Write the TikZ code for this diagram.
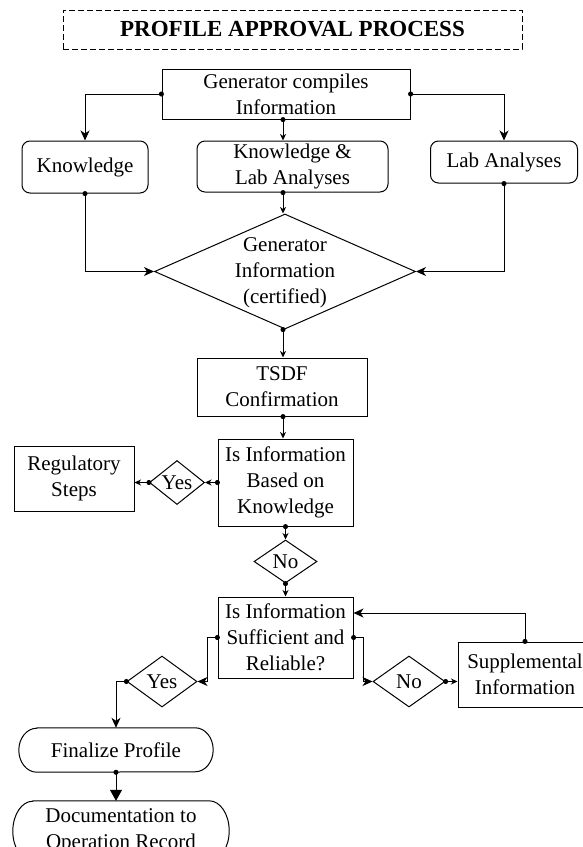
\documentclass[tikz,border=0pt]{standalone}
\usepackage{fontspec}
\setmainfont{Liberation Serif}
\usetikzlibrary{shapes.geometric,arrows.meta,calc}
\newcommand\flowfont{\fontsize{21}{26}\selectfont}
\newcommand\headfont{\fontsize{23}{28}\selectfont\bfseries}

\begin{document}
\begin{tikzpicture}[x=1pt,y=-1pt,
  every node/.style={inner sep=0pt, font=\flowfont, align=center},
  box/.style={draw, rectangle, line width=1pt},
  rbox/.style={box, rounded corners=8pt},
  dia/.style={draw, diamond, line width=1pt},
  stadium/.style={rectangle},
  link/.style={line width=1pt, shorten <=-2.4pt,
    {Circle[length=5pt]}-{Stealth[length=10pt,width=9pt,inset=3pt]}},
  linksm/.style={line width=1pt, shorten <=-2.4pt,
    {Circle[length=5pt]}-{Stealth[length=6.5pt,width=6pt,inset=2pt]}},
  linkbig/.style={line width=1pt, shorten <=-2.4pt,
    {Circle[length=5pt]}-{Triangle[length=11pt,width=12pt]}},
]
\useasboundingbox (0,0) rectangle (582,847);

% heading
\node[draw, dash pattern=on 6pt off 3pt, line width=0.8pt,
      minimum width=459pt, minimum height=39pt, font=\headfont]
      (title) at (292.5,29.5) {PROFILE APPROVAL PROCESS};

% upper part
\node[box, minimum width=248pt, minimum height=50pt] (gen) at (286,94) {Generator compiles\\Information};
\node[rbox, minimum width=126pt, minimum height=52pt] (know) at (85,167) {Knowledge};
\node[rbox, minimum width=191pt, minimum height=51pt] (kla) at (292.5,166.5) {Knowledge \&\\Lab Analyses};
\node[rbox, minimum width=147pt, minimum height=42pt] (lab) at (504,162) {Lab Analyses};
\node[dia, minimum width=261pt, minimum height=115pt] (gi) at (285,271.5) {};
\node (git) at (285,273) {Generator\\Information\\(certified)};
\node[box, minimum width=170pt, minimum height=58pt] (tsdf) at (282,387) {TSDF\\Confirmation};

% first decision
\node[box, minimum width=135pt, minimum height=87pt] (ib) at (285.5,482.5) {Is Information\\Based on\\Knowledge};
\node[dia, minimum width=55pt, minimum height=44pt] (yes1) at (177,482.5) {};
\node (yes1t) at (yes1) {Yes};
\node[box, minimum width=120pt, minimum height=65pt] (reg) at (74,478.5) {Regulatory\\Steps};
\node[dia, minimum width=63pt, minimum height=43pt] (no1) at (285.5,561.5) {};
\node (no1t) at (no1) {No};

% second decision
\node[box, minimum width=135pt, minimum height=81pt] (is) at (285.5,637.5) {Is Information\\Sufficient and\\Reliable?};
\node[dia, minimum width=70pt, minimum height=51pt] (yes2) at (162,681.5) {};
\node (yes2t) at (yes2) {Yes};
\node[dia, minimum width=72pt, minimum height=51pt] (no2) at (409,681.5) {};
\node (no2t) at (no2) {No};
\node[box, minimum width=134pt, minimum height=65pt] (sup) at (525,674.5) {Supplemental\\Information};

% terminals
\node[stadium, minimum width=194pt, minimum height=44pt] (fin) at (116,750) {Finalize Profile};
\node[stadium, minimum width=216pt, minimum height=60pt] (doc) at (121,831) {Documentation to\\Operation Record};
\draw[line width=1pt] ([xshift=18pt]fin.north west) -- ([xshift=-18pt]fin.north east)
  arc[start angle=90, end angle=-90, x radius=18pt, y radius=22pt]
  -- ([xshift=18pt]fin.south west)
  arc[start angle=270, end angle=90, x radius=18pt, y radius=22pt] -- cycle;
\draw[line width=1pt] ([xshift=20pt]doc.north west) -- ([xshift=-20pt]doc.north east)
  arc[start angle=90, end angle=-90, x radius=20pt, y radius=30pt]
  -- ([xshift=20pt]doc.south west)
  arc[start angle=270, end angle=90, x radius=20pt, y radius=30pt] -- cycle;

% connectors
\coordinate (spine) at (283,0);
\draw[link] (gen.west) -| (know.north);
\draw[link] (gen.east) -| (lab.north);
\draw[linksm] (gen.south -| spine) -- (kla.north -| spine);
\draw[linksm] (kla.south -| spine) -- (gi.north -| spine);
\draw[link] (know.south) |- (gi.west);
\draw[link] (lab.south) |- (gi.east);
\draw[linksm] (gi.south -| spine) -- (tsdf.north -| spine);
\draw[linksm] (tsdf.south -| spine) -- (ib.north -| spine);
\draw[linksm] (ib.west) -- (yes1.east);
\draw[linksm] (yes1.west) -- (yes1.west -| reg.east);
\draw[linksm] (ib.south) -- (no1.north);
\draw[linksm] (no1.south) -- (is.north);
\draw[link] (is.west) -- ++(-10,0) |- (yes2.east);
\draw[link] (yes2.west) -| (fin.north);
\draw[linkbig] (fin.south) -- (fin.south |- doc.north);
\draw[link] (is.east) -- ++(10,0) |- (no2.west);
\draw[linksm] (no2.east) -- (no2.east -| sup.west);
\draw[link] (sup.north) |- ($(is.east)+(0,-24.5)$);
\end{tikzpicture}
\end{document}
